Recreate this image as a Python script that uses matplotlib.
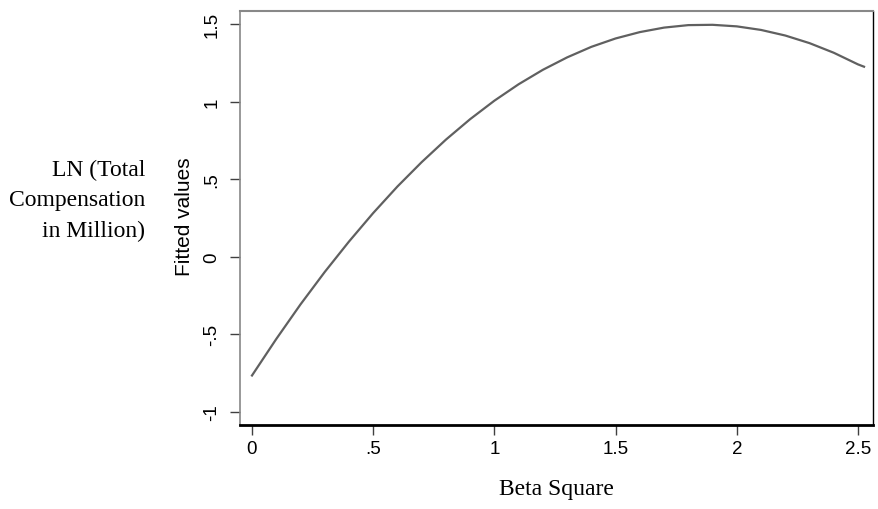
from matplotlib import pyplot as plt

# fitted values
beta_sq = [0.0, 0.1, 0.2, 0.3, 0.4, 0.5, 0.6, 0.7, 0.8, 0.9, 1.0, 1.1, 1.2,
           1.3, 1.4, 1.5, 1.6, 1.7, 1.8, 1.9, 2.0, 2.1, 2.2, 2.3, 2.4, 2.5, 2.525]
fitted = [-0.765, -0.530, -0.307, -0.098, 0.098, 0.282, 0.453, 0.610, 0.755,
          0.887, 1.006, 1.112, 1.205, 1.285, 1.353, 1.407, 1.448, 1.477, 1.493,
          1.495, 1.485, 1.462, 1.426, 1.377, 1.315, 1.240, 1.225]

x_ticks = [0, 0.5, 1, 1.5, 2, 2.5]
x_labels = ["0", ".5", "1", "1.5", "2", "2.5"]
y_ticks = [-1, -0.5, 0, 0.5, 1, 1.5]
y_labels = ["-1", "-.5", "0", ".5", "1", "1.5"]

SANS = "Liberation Sans"
SERIF = "Liberation Serif"

W, H = 879, 510
fig = plt.figure(figsize=(W / 100, H / 100), dpi=100)
ax = fig.add_axes([240 / W, 1 - 426 / H, (873 - 240) / W, (426 - 12) / H])

ax.plot(beta_sq, fitted, color="#606060", linewidth=1.6)

ax.set_xlim(-0.0495, 2.562)
ax.set_ylim(-1.084, 1.584)

ax.set_xticks(x_ticks)
ax.set_xticklabels(x_labels, fontsize=13.5, family=SANS)
ax.set_yticks(y_ticks)
ax.set_yticklabels(y_labels, fontsize=13.5, family=SANS, rotation=90, va="center")
ax.tick_params(axis="x", direction="out", length=7, width=1, pad=4, color="#404040")
ax.tick_params(axis="y", direction="out", length=7, width=1, pad=7, color="#404040")

ax.spines["left"].set_color("#888888")
ax.spines["left"].set_linewidth(1.2)
ax.spines["top"].set_color("#888888")
ax.spines["top"].set_linewidth(1.5)
ax.spines["bottom"].set_color("black")
ax.spines["bottom"].set_linewidth(2)
ax.spines["right"].set_color("black")
ax.spines["right"].set_linewidth(1)

fig.text(185 / W, 1 - 217 / H, "Fitted values", rotation=90, ha="center", va="center",
         fontsize=15, family=SANS)

for label, y in [("LN (Total", 170), ("Compensation", 201), ("in Million)", 231)]:
    fig.text(145 / W, 1 - y / H, label, ha="right", va="center", fontsize=17, family=SERIF)

fig.text(556 / W, 1 - 490 / H, "Beta Square", ha="center", va="center", fontsize=17, family=SERIF)

plt.savefig("out.png", dpi=100)
